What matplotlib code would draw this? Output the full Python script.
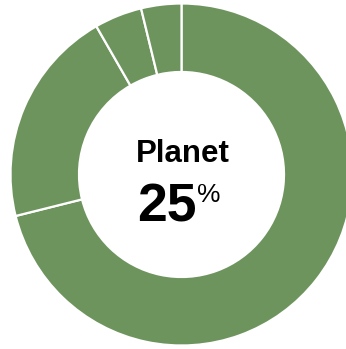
import matplotlib.pyplot as plt

# segment shares, clockwise from 12 o'clock
labels = ['Planet', 'Other A', 'Other B', 'Other C']
shares = [71.1, 20.6, 4.5, 3.8]
headline = 'Planet'
headline_value = 25

green = '#6e945e'

fig = plt.figure(figsize=(3.46, 3.49), dpi=100)
ax = fig.add_axes([0, 0, 1, 1])
ax.set_xlim(0, 346)
ax.set_ylim(0, 349)
ax.set_aspect('equal')
ax.axis('off')

ax.pie(shares, colors=[green] * len(shares), startangle=90, counterclock=False,
       center=(181.5, 174.5), radius=171,
       wedgeprops=dict(width=68.5, edgecolor='white', linewidth=1.6))

# keep the limits pie may have changed
ax.set_xlim(0, 346)
ax.set_ylim(0, 349)

ax.text(183, 187.5, headline, ha='center', va='baseline', fontsize=22.5,
        fontweight='bold', family='Liberation Sans')
ax.text(166.5, 127.5, str(headline_value), ha='center', va='baseline', fontsize=38.5,
        fontweight='bold', family='Liberation Sans')
ax.text(197.5, 147.5, '%', ha='left', va='baseline', fontsize=19,
        family='Liberation Sans')

fig.savefig('out.png', dpi=100)
